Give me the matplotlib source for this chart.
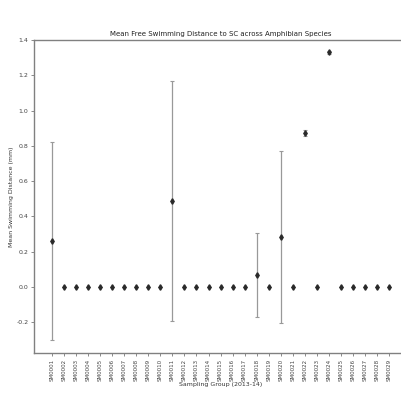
import matplotlib
matplotlib.use("Agg")
import matplotlib.pyplot as plt
import numpy as np

samples = ["SM0001", "SM0002", "SM0003", "SM0004", "SM0005", "SM0006", "SM0007",
           "SM0008", "SM0009", "SM0010", "SM0011", "SM0012", "SM0013", "SM0014",
           "SM0015", "SM0016", "SM0017", "SM0018", "SM0019", "SM0020", "SM0021",
           "SM0022", "SM0023", "SM0024", "SM0025", "SM0026", "SM0027", "SM0028",
           "SM0029"]
means = [0.26, 0.0, 0.0, 0.0, 0.0, 0.0, 0.0, 0.0, 0.0, 0.0,
         0.485, 0.0, 0.0, 0.0, 0.0, 0.0, 0.0, 0.068, 0.0, 0.282,
         0.0, 0.873, 0.0, 1.331, 0.0, 0.0, 0.0, 0.0, 0.0]
errors = [0.56, 0.0, 0.0, 0.0, 0.0, 0.0, 0.0, 0.0, 0.0, 0.0,
          0.68, 0.0, 0.0, 0.0, 0.0, 0.0, 0.0, 0.24, 0.0, 0.49,
          0.0, 0.015, 0.0, 0.008, 0.0, 0.0, 0.0, 0.0, 0.0]
yticks = [-0.2, 0.0, 0.2, 0.4, 0.6, 0.8, 1.0, 1.2, 1.4]

fig = plt.figure(figsize=(4.02, 4.04), dpi=100)
ax = fig.add_axes([0.0846, 0.126, 0.928, 0.775])

x = np.arange(len(samples))
ax.errorbar(x, means, yerr=errors, fmt='d', color='#2a2a2a', markersize=2.8,
            ecolor='#999999', elinewidth=0.9, capsize=1.5, capthick=0.8)

ax.set_xlim(-1.5, len(samples) + 0.5)
ax.set_ylim(-0.376, 1.4)
ax.set_yticks(yticks)
ax.set_yticklabels([f"{v:.1f}" for v in yticks], fontsize=4.5, color='#444444')
ax.set_xticks(x)
ax.set_xticklabels(samples, rotation=90, fontsize=4, color='#444444')
ax.tick_params(axis='both', length=2, width=0.6, color='#777777', pad=2)

for s in ax.spines.values():
    s.set_color('#808080')
    s.set_linewidth(1.0)

ax.set_title("Mean Free Swimming Distance to SC across Amphibian Species",
             fontsize=5, pad=3, color='#222222')
ax.set_xlabel("Sampling Group (2013-14)", fontsize=4.5, labelpad=1, color='#333333')
ax.set_ylabel("Mean Swimming Distance (mm)", fontsize=4.5, labelpad=2, color='#333333')

fig.savefig("out.png", dpi=100)
